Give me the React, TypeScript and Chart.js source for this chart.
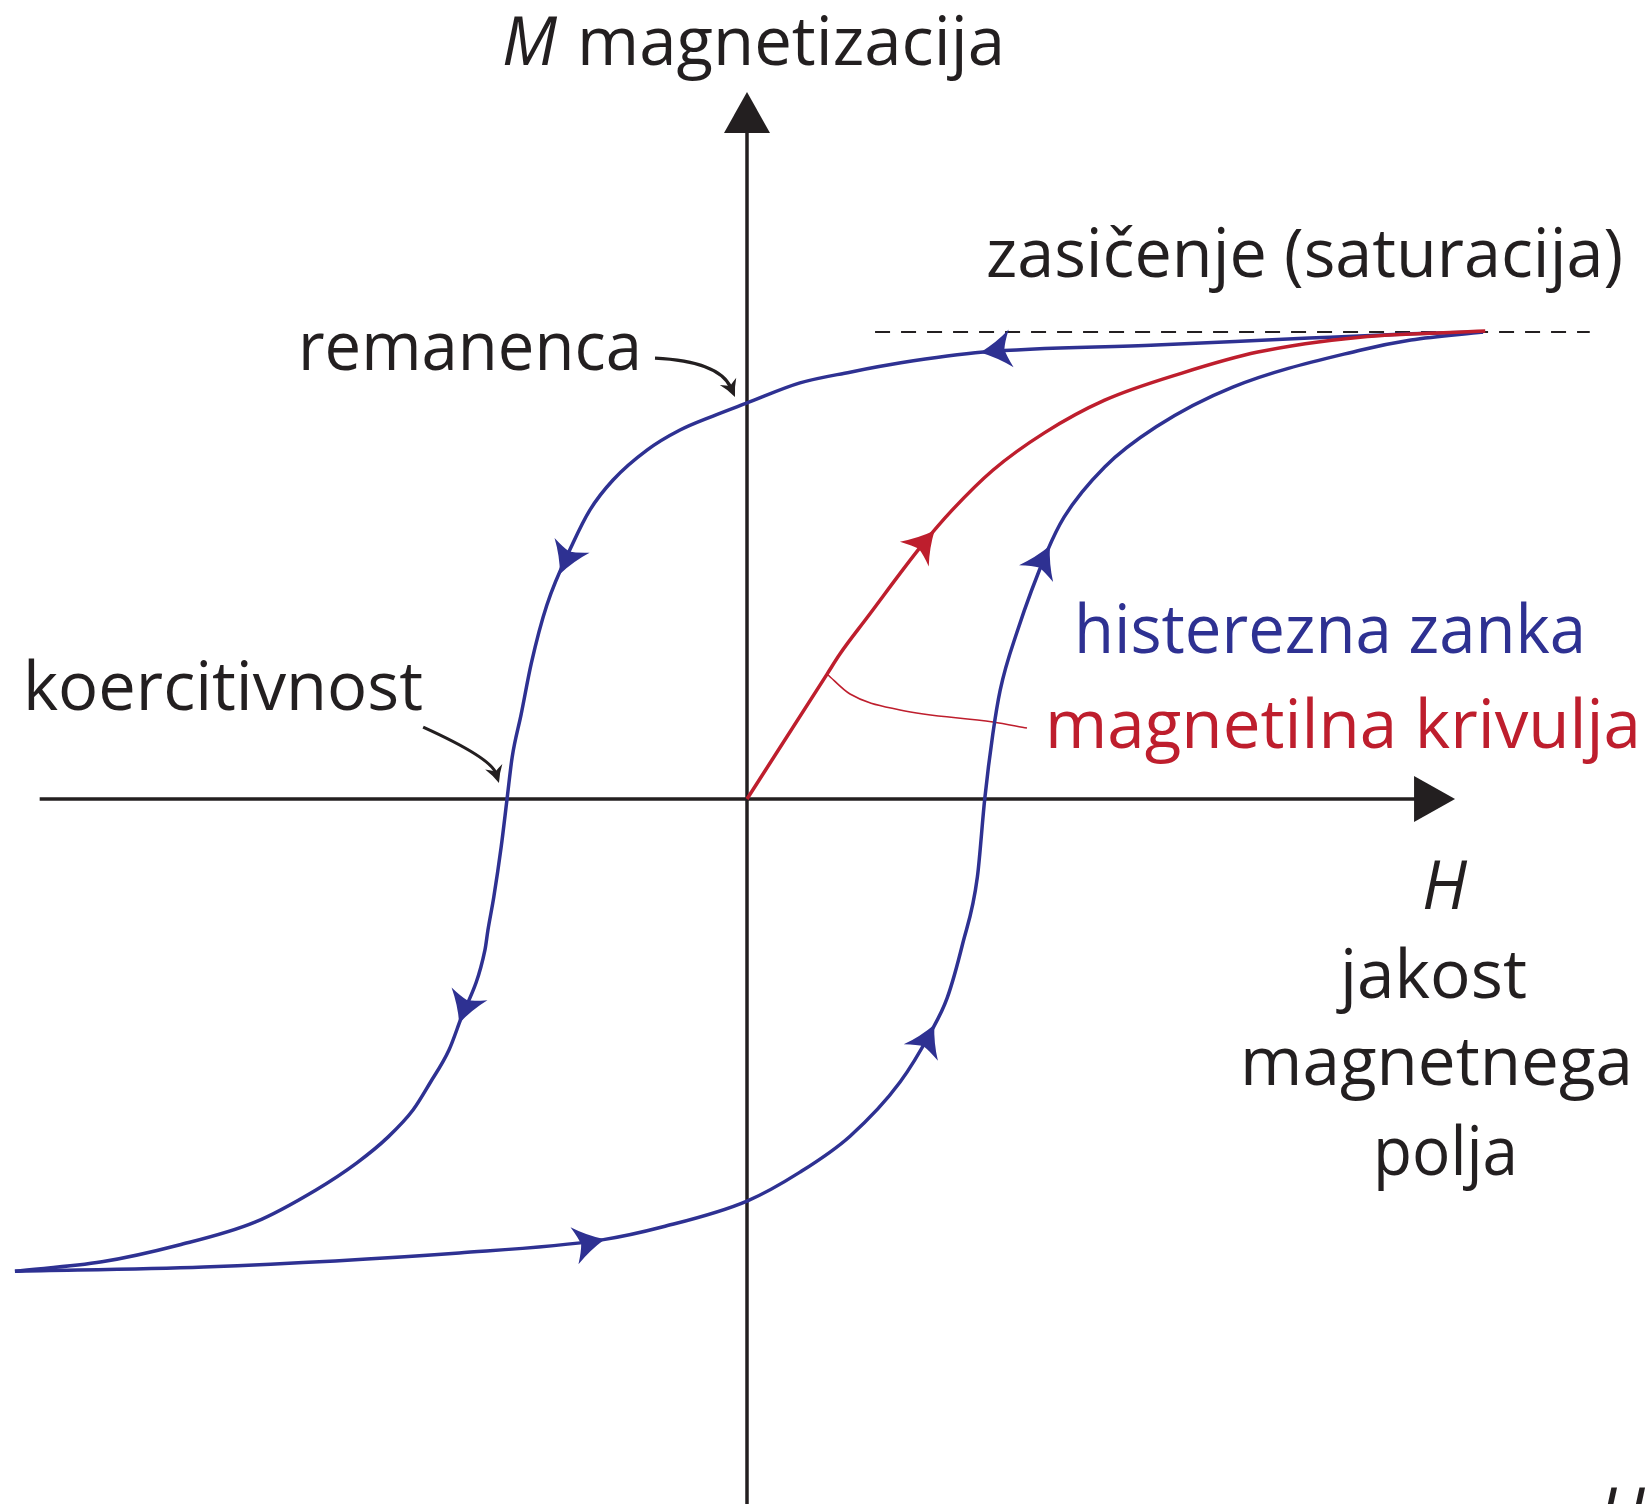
import React, { useEffect, useRef } from "react";
import { Chart, registerables } from "chart.js";

Chart.register(...registerables);

// ---------- colours ----------
const BLUE = "#2E3192";
const RED = "#BE1E2D";
const INK = "#231F20";

// ---------- data (H and M in units where saturation = 10) ----------
// hysteresis loop, descending branch (from +saturation to -saturation)
const descendingH = [10.0, 9.02, 7.64, 5.56, 3.21, 2.09, 1.4, 0.72, 0, -0.462, -0.91, -1.359, -1.82, -2.133, -2.364, -2.72, -2.93, -3.07, -3.19, -3.26, -3.34, -3.44, -3.52, -3.56, -3.91, -4.049, -4.307, -4.538, -4.878, -5.3, -5.856, -6.685, -7.717, -8.764, -9.946];
const descendingM = [10.0, 9.96, 9.87, 9.72, 9.57, 9.34, 9.14, 8.91, 8.48, 8.2, 7.9, 7.47, 6.83, 6.19, 5.48, 4.15, 2.91, 1.8, 0.9, 0, -1.03, -2.1, -2.81, -3.23, -4.8, -5.375, -6.081, -6.66, -7.24, -7.79, -8.37, -9.06, -9.55, -9.91, -10.11];

// hysteresis loop, ascending branch (from -saturation to +saturation)
const ascendingH = [-9.946, -7.38, -3.91, -1.97, -1.14, 0, 0.72, 1.4, 2.08, 2.49, 2.72, 2.93, 3.13, 3.23, 3.34, 3.44, 3.67, 4.08, 4.31, 4.86, 5.56, 6.6, 8.33, 9.02, 10.0];
const ascendingM = [-10.11, -10.02, -9.72, -9.44, -9.16, -8.61, -7.99, -7.22, -6.06, -5.01, -4.26, -3.1, -1.67, 0, 1.39, 2.33, 3.58, 5.31, 6.04, 7.11, 7.97, 8.82, 9.61, 9.83, 10.0];

// initial magnetisation curve
const virginH = [0, 1.09, 1.26, 1.63, 2.38, 2.79, 3.34, 4.04, 4.86, 5.91, 6.94, 8.33, 10.03];
const virginM = [0, 2.68, 3.1, 3.88, 5.44, 6.19, 7.04, 7.84, 8.54, 9.12, 9.57, 9.89, 10.02];

// saturation level (dashed)
const saturationH = [1.74, 11.45];
const saturationM = [10, 10];

// red leader line from the curve to its label
const leaderH = [1.087, 1.4, 2.079, 3.342, 3.804];
const leaderM = [2.677, 2.248, 1.906, 1.649, 1.52];

// direction arrowheads on the curves (tips)
const descendingArrows = [[3.17, 9.57], [-2.51, 4.8], [-3.91, -4.8]];
const ascendingArrows = [[-1.93, -9.44], [2.53, -4.82], [4.09, 5.44]];
const virginArrows = [[2.54, 5.76]];

// black callout arrows: start, control, tip
const calloutRemanence = [[-1.25, 9.44], [-0.382, 9.375], [-0.163, 8.61]];
const calloutCoercivity = [[-4.4, 1.54], [-3.48, 0.882], [-3.37, 0.343]];

// axes extents
const hAxisRange = [-9.61, 9.62];
const mAxisRange = [-15.2, 15.14];

// plot window
const X_MIN = -10.149;
const X_MAX = 12.255;
const Y_MIN = -15.096;
const Y_MAX = 17.109;

// text labels: text, left H, right H, baseline M
const labelTexts = ["M", "magnetizacija", "zasičenje (saturacija)", "remanenca", "koercitivnost", "histerezna zanka", "magnetilna krivulja", "H", "jakost", "magnetnega", "polja", "H"];
const labelLeftH = [-3.329, -2.31, 3.247, -6.101, -9.837, 4.443, 4.049, 9.171, 8.057, 6.698, 8.505, 11.563];
const labelRightH = [-2.582, 3.505, 11.902, -1.427, -4.402, 11.399, 12.147, 9.783, 10.598, 12.038, 10.476, 12.2];
const labelBaseM = [15.717, 15.717, 11.178, 9.186, 1.906, 3.126, 1.092, -2.355, -4.261, -6.124, -8.051, -15.78];
const labelColors = [INK, INK, INK, INK, INK, BLUE, RED, INK, INK, INK, INK, INK];
const labelItalic = [true, false, false, false, false, false, false, true, false, false, false, true];

const FONT_SIZE = 68;
const FONT_FAMILY = '"Open Sans", "Noto Sans", sans-serif';

const toPts = (hs: number[], ms: number[]) => hs.map((h, i) => ({ x: h, y: ms[i] }));

function stealthArrow(ctx: CanvasRenderingContext2D, tx: number, ty: number, dx: number, dy: number, L: number, W: number, color: string, notch = 0.78) {
  const nx = -dy, ny = dx;
  const w1x = tx - L * dx + W * nx, w1y = ty - L * dy + W * ny;
  const w2x = tx - L * dx - W * nx, w2y = ty - L * dy - W * ny;
  const c1x = tx - 0.55 * L * dx + 0.4 * W * nx, c1y = ty - 0.55 * L * dy + 0.4 * W * ny;
  const c2x = tx - 0.55 * L * dx - 0.4 * W * nx, c2y = ty - 0.55 * L * dy - 0.4 * W * ny;
  const notchX = tx - notch * L * dx, notchY = ty - notch * L * dy;
  const b1x = tx - 0.82 * L * dx + 0.35 * W * nx, b1y = ty - 0.82 * L * dy + 0.35 * W * ny;
  const b2x = tx - 0.82 * L * dx - 0.35 * W * nx, b2y = ty - 0.82 * L * dy - 0.35 * W * ny;
  ctx.save();
  ctx.fillStyle = color;
  ctx.beginPath();
  ctx.moveTo(tx, ty);
  ctx.quadraticCurveTo(c1x, c1y, w1x, w1y);
  ctx.quadraticCurveTo(b1x, b1y, notchX, notchY);
  ctx.quadraticCurveTo(b2x, b2y, w2x, w2y);
  ctx.quadraticCurveTo(c2x, c2y, tx, ty);
  ctx.closePath();
  ctx.fill();
  ctx.restore();
}

function triangleArrow(ctx: CanvasRenderingContext2D, tx: number, ty: number, dx: number, dy: number, L: number, W: number, color: string) {
  const nx = -dy, ny = dx;
  ctx.save();
  ctx.fillStyle = color;
  ctx.beginPath();
  ctx.moveTo(tx, ty);
  ctx.lineTo(tx - L * dx + W * nx, ty - L * dy + W * ny);
  ctx.lineTo(tx - L * dx - W * nx, ty - L * dy - W * ny);
  ctx.closePath();
  ctx.fill();
  ctx.restore();
}

const axesPlugin = {
  id: "axesThroughOrigin",
  beforeDatasetsDraw(chart: any) {
    const ctx: CanvasRenderingContext2D = chart.ctx;
    const xs = chart.scales.x, ys = chart.scales.y;
    const x0 = xs.getPixelForValue(0), y0 = ys.getPixelForValue(0);
    const L = 41, W = 23;
    ctx.save();
    ctx.strokeStyle = INK;
    ctx.lineWidth = 3.5;
    ctx.lineCap = "butt";
    const hx1 = xs.getPixelForValue(hAxisRange[0]);
    const hx2 = xs.getPixelForValue(hAxisRange[1]);
    ctx.beginPath();
    ctx.moveTo(hx1, y0);
    ctx.lineTo(hx2 - L + 2, y0);
    ctx.stroke();
    triangleArrow(ctx, hx2, y0, 1, 0, L, W, INK);
    const vy1 = ys.getPixelForValue(mAxisRange[0]);
    const vy2 = ys.getPixelForValue(mAxisRange[1]);
    ctx.beginPath();
    ctx.moveTo(x0, vy1);
    ctx.lineTo(x0, vy2 + L - 2);
    ctx.stroke();
    triangleArrow(ctx, x0, vy2, 0, -1, L, W, INK);
    ctx.restore();
  },
};

function placeOnCurve(meta: any, tx: number, ty: number) {
  const pts = meta.data.map((p: any) => ({ x: p.x, y: p.y }));
  let best = { d: Infinity, x: tx, y: ty, dx: 1, dy: 0 };
  for (let k = 0; k < pts.length - 1; k++) {
    const a = pts[k], b = pts[k + 1];
    const vx = b.x - a.x, vy = b.y - a.y;
    const len2 = vx * vx + vy * vy;
    if (len2 === 0) continue;
    let t = ((tx - a.x) * vx + (ty - a.y) * vy) / len2;
    t = Math.max(0, Math.min(1, t));
    const px = a.x + t * vx, py = a.y + t * vy;
    const d = Math.hypot(px - tx, py - ty);
    if (d < best.d) {
      const len = Math.sqrt(len2);
      best = { d, x: px, y: py, dx: vx / len, dy: vy / len };
    }
  }
  return best;
}

const curveArrowsPlugin = {
  id: "curveArrows",
  afterDatasetsDraw(chart: any) {
    const ctx: CanvasRenderingContext2D = chart.ctx;
    const xs = chart.scales.x, ys = chart.scales.y;
    const groups: [number, number[][], string][] = [
      [1, descendingArrows, BLUE],
      [2, ascendingArrows, BLUE],
      [0, virginArrows, RED],
    ];
    for (const [idx, tips, color] of groups) {
      const meta = chart.getDatasetMeta(idx);
      for (const [h, m] of tips) {
        const p = placeOnCurve(meta, xs.getPixelForValue(h), ys.getPixelForValue(m));
        stealthArrow(ctx, p.x, p.y, p.dx, p.dy, 31, 19, color);
      }
    }
    for (const c of [calloutRemanence, calloutCoercivity]) {
      const [s, cp, e] = c.map(([h, m]) => ({ x: xs.getPixelForValue(h), y: ys.getPixelForValue(m) }));
      let dx = e.x - cp.x, dy = e.y - cp.y;
      const len = Math.hypot(dx, dy);
      dx /= len; dy /= len;
      const L = 17;
      const ex = e.x - dx * L * 0.6, ey = e.y - dy * L * 0.6;
      ctx.save();
      ctx.strokeStyle = INK;
      ctx.lineWidth = 3.2;
      ctx.lineCap = "butt";
      ctx.beginPath();
      ctx.moveTo(s.x, s.y);
      ctx.quadraticCurveTo(cp.x, cp.y, ex, ey);
      ctx.stroke();
      ctx.restore();
      stealthArrow(ctx, e.x, e.y, dx, dy, L, 9, INK, 0.7);
    }
  },
};

const labelsPlugin = {
  id: "textLabels",
  afterDraw(chart: any) {
    const ctx: CanvasRenderingContext2D = chart.ctx;
    const xs = chart.scales.x, ys = chart.scales.y;
    labelTexts.forEach((text, i) => {
      const x0 = xs.getPixelForValue(labelLeftH[i]);
      const x1 = xs.getPixelForValue(labelRightH[i]);
      const y = ys.getPixelForValue(labelBaseM[i]);
      ctx.save();
      ctx.font = `${labelItalic[i] ? "italic " : ""}${FONT_SIZE}px ${FONT_FAMILY}`;
      ctx.fillStyle = labelColors[i];
      ctx.textBaseline = "alphabetic";
      ctx.textAlign = "left";
      const w = ctx.measureText(text).width;
      ctx.translate(x0, y);
      ctx.scale((x1 - x0) / w, 1);
      ctx.fillText(text, 0, 0);
      ctx.restore();
    });
  },
};

export default function App() {
  const ref = useRef<HTMLCanvasElement>(null);
  useEffect(() => {
    const canvas = ref.current;
    if (!canvas) return;
    const line = (data: any, color: string, width: number, extra: any = {}) => ({
      data,
      borderColor: color,
      backgroundColor: color,
      borderWidth: width,
      pointRadius: 0,
      pointHoverRadius: 0,
      fill: false,
      cubicInterpolationMode: "monotone",
      borderCapStyle: "butt",
      borderJoinStyle: "round",
      ...extra,
    });
    const chart = new Chart(canvas, {
      type: "line",
      data: {
        datasets: [
          { label: "magnetilna krivulja", ...line(toPts(virginH, virginM), RED, 3.5) },
          { label: "histerezna zanka (padajoča)", ...line(toPts(descendingH, descendingM), BLUE, 3.5) },
          { label: "histerezna zanka (naraščajoča)", ...line(toPts(ascendingH, ascendingM), BLUE, 3.5) },
          { label: "vodilo", ...line(toPts(leaderH, leaderM), RED, 1.6) },
          { label: "zasičenje", ...line(toPts(saturationH, saturationM), INK, 2, { cubicInterpolationMode: "default", tension: 0, borderDash: [15, 11] }) },
        ],
      } as any,
      options: {
        animation: false,
        responsive: false,
        maintainAspectRatio: false,
        devicePixelRatio: 1,
        events: [],
        layout: { padding: 0 },
        scales: {
          x: { type: "linear", min: X_MIN, max: X_MAX, display: false },
          y: { type: "linear", min: Y_MIN, max: Y_MAX, display: false },
        },
        plugins: {
          legend: { display: false },
          tooltip: { enabled: false },
          title: { display: false },
        },
      } as any,
      plugins: [axesPlugin, curveArrowsPlugin, labelsPlugin],
    });
    return () => chart.destroy();
  }, []);

  return (
    <div style={{ position: "absolute", left: 0, top: 0, width: 1649, height: 1504, background: "#ffffff" }}>
      <canvas ref={ref} width={1649} height={1504} style={{ display: "block", width: 1649, height: 1504 }} />
    </div>
  );
}
